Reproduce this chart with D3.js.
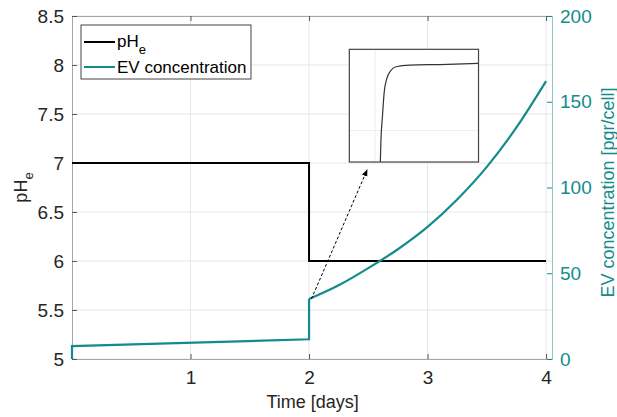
<!DOCTYPE html>
<html>
<head>
<meta charset="utf-8">
<script src="https://cdn.jsdelivr.net/npm/d3@7"></script>
<style>
  body { margin: 0; background: #fff; }
  svg text { font-family: "Liberation Sans", Arial, sans-serif; }
</style>
</head>
<body>
<div id="chart"></div>
<script>
// data
let phTime = [0, 2, 2, 4];
let phValue = [7, 7, 6, 6];

let evEarlyTime = [0, 0, 2, 2];
let evEarlyValue = [0, 7.5, 11.5, 35];

let evTime = [2, 2.25, 2.5, 2.75, 3, 3.25, 3.5, 3.75, 4];
let evValue = [35, 43, 53, 64, 77, 93, 112, 135, 162];

// inset (zoomed view), normalised units
let insetX = [0.24, 0.245, 0.256, 0.27, 0.29, 0.32, 0.36, 0.47, 0.7, 1];
let insetY = [0, 0.2, 0.4, 0.62, 0.74, 0.81, 0.845, 0.86, 0.865, 0.875];

let xTicks = [1, 2, 3, 4];
let phTicks = [5, 5.5, 6, 6.5, 7, 7.5, 8, 8.5];
let evTicks = [0, 50, 100, 150, 200];

const width = 617, height = 417;
const margin = {top: 16, right: 65, bottom: 58, left: 72};
const teal = "#128c8c";
const fmt = d3.format("~g");

let svg = d3.select("#chart").append("svg")
    .attr("width", width)
    .attr("height", height);

let x = d3.scaleLinear().domain([0, 4.05]).range([margin.left, width - margin.right]);
let y = d3.scaleLinear().domain([5, 8.5]).range([height - margin.bottom, margin.top]);
let y2 = d3.scaleLinear().domain([0, 200]).range([height - margin.bottom, margin.top]);

// grid
let grid = svg.append("g").attr("stroke", "#e6e6e6").attr("stroke-width", 1);
grid.selectAll(".gx").data(xTicks).enter().append("line")
    .attr("x1", d => x(d)).attr("x2", d => x(d))
    .attr("y1", y(5)).attr("y2", y(8.5));
grid.selectAll(".gy").data(phTicks).enter().append("line")
    .attr("x1", x(0)).attr("x2", x(4.05))
    .attr("y1", d => y(d)).attr("y2", d => y(d));

// axes
let xAxis = svg.append("g")
    .attr("transform", `translate(0, ${y(5)})`)
    .call(d3.axisBottom(x).tickValues(xTicks).tickFormat(fmt).tickSizeInner(-5).tickSizeOuter(0).tickPadding(12));
let xTop = svg.append("g")
    .attr("transform", `translate(0, ${y(8.5)})`)
    .call(d3.axisTop(x).tickValues(xTicks).tickSizeInner(-5).tickSizeOuter(0).tickFormat(""));
let yAxis = svg.append("g")
    .attr("transform", `translate(${x(0)}, 0)`)
    .call(d3.axisLeft(y).tickValues(phTicks).tickFormat(fmt).tickSizeInner(-5).tickSizeOuter(0).tickPadding(8));
let y2Axis = svg.append("g")
    .attr("transform", `translate(${x(4.05)}, 0)`)
    .call(d3.axisRight(y2).tickValues(evTicks).tickFormat(fmt).tickSizeInner(-5).tickSizeOuter(0).tickPadding(8));

[xAxis, xTop, yAxis].forEach(a => {
    a.select(".domain").attr("stroke", "#a6a6a6");
    a.selectAll(".tick line").attr("stroke", "#555");
    a.selectAll("text").attr("fill", "#262626").style("font-size", "19px");
});
y2Axis.select(".domain").attr("stroke", "#8cc6c6");
y2Axis.selectAll(".tick line").attr("stroke", teal);
y2Axis.selectAll("text").attr("fill", teal).style("font-size", "19px");

// lines
let phLine = d3.line().x((d, i) => x(phTime[i])).y(d => y(d));
svg.append("path").datum(phValue)
    .attr("d", phLine).attr("fill", "none")
    .attr("stroke", "#000").attr("stroke-width", 2);

let evLineEarly = d3.line().x((d, i) => x(evEarlyTime[i])).y(d => y2(d));
svg.append("path").datum(evEarlyValue)
    .attr("d", evLineEarly).attr("fill", "none")
    .attr("stroke", teal).attr("stroke-width", 2.2);

let evLine = d3.line().curve(d3.curveMonotoneX).x((d, i) => x(evTime[i])).y(d => y2(d));
svg.append("path").datum(evValue)
    .attr("d", evLine).attr("fill", "none")
    .attr("stroke", teal).attr("stroke-width", 2.2);

// arrow
svg.append("defs").append("marker")
    .attr("id", "head").attr("viewBox", "0 0 10 10")
    .attr("refX", 9).attr("refY", 5)
    .attr("markerWidth", 7).attr("markerHeight", 7)
    .attr("orient", "auto")
    .append("path").attr("d", "M0,1 L10,5 L0,9 Z").attr("fill", "#000");
svg.append("line")
    .attr("x1", x(2.02)).attr("y1", y2(35))
    .attr("x2", x(2.49)).attr("y2", y(6.93))
    .attr("stroke", "#000").attr("stroke-width", 1)
    .attr("stroke-dasharray", "3,2")
    .attr("marker-end", "url(#head)");

// inset
let ix = d3.scaleLinear().domain([0, 1]).range([x(2.34), x(3.43)]);
let iy = d3.scaleLinear().domain([0, 1]).range([y(7.01), y(8.16)]);
let inset = svg.append("g");
inset.append("rect")
    .attr("x", ix(0)).attr("y", iy(1))
    .attr("width", ix(1) - ix(0)).attr("height", iy(0) - iy(1))
    .attr("fill", "#fff");
inset.append("line").attr("stroke", "#eee")
    .attr("x1", ix(0.2)).attr("x2", ix(0.2)).attr("y1", iy(0)).attr("y2", iy(1));
inset.append("line").attr("stroke", "#eee")
    .attr("x1", ix(0)).attr("x2", ix(1)).attr("y1", iy(0.28)).attr("y2", iy(0.28));
inset.append("path").datum(insetY)
    .attr("d", d3.line().curve(d3.curveMonotoneX).x((d, i) => ix(insetX[i])).y(d => iy(d)))
    .attr("fill", "none").attr("stroke", "#333").attr("stroke-width", 1.2);
inset.append("rect")
    .attr("x", ix(0)).attr("y", iy(1))
    .attr("width", ix(1) - ix(0)).attr("height", iy(0) - iy(1))
    .attr("fill", "none").attr("stroke", "#444").attr("stroke-width", 1.2);

// legend
let lg = svg.append("g").attr("transform", `translate(${x(0) + 9}, ${y(8.5) + 9})`);
lg.append("rect").attr("width", 170).attr("height", 54)
    .attr("fill", "#fff").attr("stroke", "#444").attr("stroke-width", 1);
lg.append("line").attr("x1", 3).attr("x2", 34).attr("y1", 17).attr("y2", 17)
    .attr("stroke", "#000").attr("stroke-width", 2);
lg.append("line").attr("x1", 3).attr("x2", 34).attr("y1", 42).attr("y2", 42)
    .attr("stroke", teal).attr("stroke-width", 2);
let t1 = lg.append("text").attr("x", 36).attr("y", 22).style("font-size", "17px").attr("fill", "#000");
t1.append("tspan").text("pH");
t1.append("tspan").attr("dy", 7).style("font-size", "13px").text("e");
lg.append("text").attr("x", 36).attr("y", 48).style("font-size", "17px").attr("fill", "#000")
    .text("EV concentration");

// axis labels
svg.append("text")
    .attr("x", x(2.03)).attr("y", 408)
    .attr("text-anchor", "middle").style("font-size", "18px").attr("fill", "#262626")
    .text("Time [days]");

let yl = svg.append("text")
    .attr("transform", `translate(27, ${(y(5) + y(8.5)) / 2}) rotate(-90)`)
    .attr("text-anchor", "middle").style("font-size", "18px").attr("fill", "#262626");
yl.append("tspan").text("pH");
yl.append("tspan").attr("dy", 6).style("font-size", "13px").text("e");

svg.append("text")
    .attr("transform", `translate(614, ${(y(5) + y(8.5)) / 2 + 5}) rotate(-90)`)
    .attr("text-anchor", "middle").style("font-size", "18px").attr("fill", teal)
    .text("EV concentration [pgr/cell]");
</script>
</body>
</html>
